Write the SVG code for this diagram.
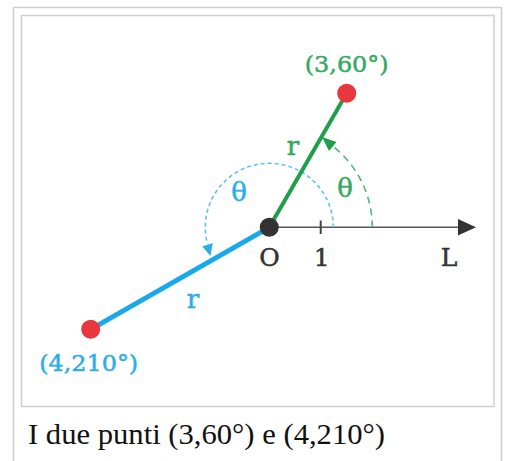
<svg xmlns="http://www.w3.org/2000/svg" width="508" height="461" viewBox="0 0 508 461">
<style>
.lbl{font-family:"DejaVu Serif","Liberation Serif",serif;stroke-width:0.5px;}
.g{fill:#35a960;stroke:#35a960;}
.b{fill:#2aaee8;stroke:#2aaee8;}
.k{fill:#333333;stroke:#333333;}
.cap{font-family:"Liberation Serif","Times New Roman",serif;font-size:30px;fill:#111111;}
</style>
<rect x="0" y="0" width="508" height="461" fill="#ffffff"/>
<g id="frame">
<path d="M13.5,470 V7.5 H501.5 V470" fill="none" stroke="#cfcfcf" stroke-width="1.5"/>
<rect x="21.5" y="15.5" width="472.5" height="391" fill="#ffffff" stroke="#cfcfcf" stroke-width="1.5"/>
</g>
<g id="connectors">
<line x1="269.3" y1="227.3" x2="462" y2="227.3" stroke="#555555" stroke-width="1.6"/>
<polygon points="476,227.3 458,219 458,235.6" fill="#333333"/>
<line x1="320.7" y1="220.5" x2="320.7" y2="234" stroke="#444444" stroke-width="2"/>
<path d="M333.3,227.3 A64,64 0 1 0 207.5,243.9" fill="none" stroke="#5cc3f0" stroke-width="1.6" stroke-dasharray="4,3"/>
<polygon points="210.4,256 212.8,243.2 202.2,246.2" fill="#2aaee8"/>
<path d="M372.3,227.3 A103,103 0 0 0 332.7,146.1" fill="none" stroke="#4cb874" stroke-width="1.6" stroke-dasharray="7,5"/>
<polygon points="322,137 336.5,142 329,151" fill="#1f9e4c"/>
<line x1="269.3" y1="227.3" x2="346.7" y2="93.3" stroke="#1f9e4c" stroke-width="4"/>
<line x1="269.3" y1="227.3" x2="90.7" y2="329.3" stroke="#1aa8ec" stroke-width="5"/>
</g>
<g id="node-origin">
<circle cx="269.3" cy="227.3" r="9.5" fill="#333333"/>
<text class="lbl k" x="269.5" y="266" font-size="25" text-anchor="middle">O</text>
</g>
<g id="node-tick">
<text class="lbl k" x="321.7" y="266" font-size="25" text-anchor="middle">1</text>
</g>
<g id="node-L">
<text class="lbl k" x="449" y="266" font-size="25" text-anchor="middle">L</text>
</g>
<g id="node-p1">
<circle cx="346.7" cy="93.3" r="9.5" fill="#e8383d"/>
<text class="lbl g" x="346.7" y="72" font-size="23" text-anchor="middle" textLength="84" lengthAdjust="spacingAndGlyphs">(3,60°)</text>
</g>
<g id="node-p2">
<circle cx="90.7" cy="329.3" r="9.5" fill="#e8383d"/>
<text class="lbl b" x="88.7" y="371" font-size="23" text-anchor="middle" textLength="99" lengthAdjust="spacingAndGlyphs">(4,210°)</text>
</g>
<g id="labels">
<text class="lbl g" x="293" y="155" font-size="26" text-anchor="middle">r</text>
<text class="lbl b" x="193" y="308" font-size="26" text-anchor="middle">r</text>
<text class="lbl b" x="239" y="201" font-size="26" text-anchor="middle">θ</text>
<text class="lbl g" x="345" y="197" font-size="26" text-anchor="middle">θ</text>
</g>
<g id="caption">
<text class="cap" x="28" y="444" textLength="357" lengthAdjust="spacingAndGlyphs">I due punti (3,60°) e (4,210°)</text>
</g>
</svg>
